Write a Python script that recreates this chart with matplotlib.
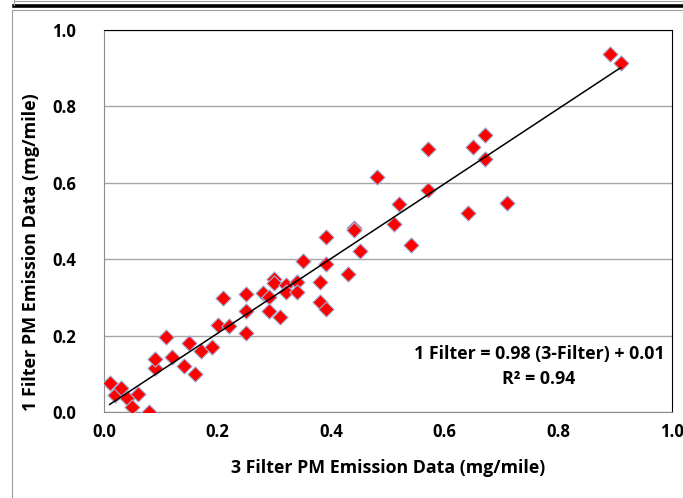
import matplotlib
matplotlib.use('Agg')
from matplotlib import pyplot as plt
from matplotlib.lines import Line2D
from matplotlib.patches import Rectangle

# 3 filter vs 1 filter PM emission (mg/mile)
three_filter = [0.01, 0.02, 0.03, 0.04, 0.05, 0.06, 0.08, 0.09, 0.09, 0.11,
                0.12, 0.14, 0.15, 0.16, 0.17, 0.19, 0.20, 0.21, 0.22, 0.25,
                0.25, 0.25, 0.28, 0.29, 0.29, 0.30, 0.30, 0.31, 0.32, 0.32,
                0.34, 0.34, 0.35, 0.38, 0.38, 0.39, 0.39, 0.39, 0.43, 0.44,
                0.44, 0.45, 0.48, 0.51, 0.52, 0.54, 0.57, 0.57, 0.64, 0.65,
                0.67, 0.67, 0.71, 0.89, 0.91]
one_filter = [0.075, 0.045, 0.062, 0.037, 0.013, 0.047, 0.00, 0.115, 0.139, 0.196,
              0.144, 0.121, 0.181, 0.099, 0.160, 0.170, 0.228, 0.298, 0.225, 0.309,
              0.264, 0.207, 0.312, 0.300, 0.264, 0.348, 0.337, 0.249, 0.332, 0.314,
              0.340, 0.314, 0.395, 0.340, 0.288, 0.270, 0.387, 0.458, 0.361, 0.482,
              0.476, 0.421, 0.615, 0.492, 0.544, 0.437, 0.688, 0.581, 0.521, 0.695,
              0.725, 0.662, 0.547, 0.937, 0.914]
slope = 0.98
intercept = 0.01
r_squared = 0.94
ticks = [0.0, 0.2, 0.4, 0.6, 0.8, 1.0]

plt.rcParams['font.family'] = ['Open Sans', 'DejaVu Sans']
plt.rcParams['font.weight'] = 'bold'

fig = plt.figure(figsize=(6.83, 4.98), dpi=100)
W, H = 683, 498

# frame bits around the chart (screenshot of a document)
fig.add_artist(Line2D([14 / W, 1], [1 - 1 / H, 1 - 1 / H], color='#a0a0a0', lw=0.8))
fig.add_artist(Line2D([14 / W, 1], [1 - 6.5 / H, 1 - 6.5 / H], color='black', lw=2.6))
fig.add_artist(Line2D([14 / W, 14 / W], [1 - 5 / H, 1], color='#a0a0a0', lw=0.8))
fig.add_artist(Rectangle((11.5 / W, -0.1), 1.2, 1.1 - 10 / H, transform=fig.transFigure,
                         fill=False, edgecolor='#a0a0a0', lw=0.8))

ax = fig.add_axes([104 / W, 1 - 412 / H, (672 - 104) / W, (412 - 30) / H])

ax.scatter(three_filter, one_filter, marker='D', s=60, color='#ff0000',
           edgecolors='#9fb4dc', linewidths=0.8, zorder=3)

x0, x1 = min(three_filter), max(three_filter)
ax.plot([x0, x1], [slope * x0 + intercept, slope * x1 + intercept],
        color='black', lw=1.1, zorder=4)

ax.set_xlim(0, 1)
ax.set_ylim(0, 1)
ax.set_xticks(ticks)
ax.set_yticks(ticks)
ax.set_xticklabels([f'{t:.1f}' for t in ticks])
ax.set_yticklabels([f'{t:.1f}' for t in ticks])
ax.tick_params(length=0, labelsize=12, pad=8)
ax.tick_params(axis='y', pad=20)
ax.grid(axis='y', color='#a6a6a6', lw=1)
ax.set_axisbelow(True)
for side in ['left', 'bottom']:
    ax.spines[side].set_color('#8c8c8c')
for side in ['top', 'right']:
    ax.spines[side].set_color('black')

fig.text(388 / W, 1 - 468 / H, '3 Filter PM Emission Data (mg/mile)',
         ha='center', va='center', fontsize=12.8, fontweight='bold')
fig.text(31 / W, 1 - 252 / H, '1 Filter PM Emission Data (mg/mile)',
         ha='center', va='center', rotation=90, fontsize=13, fontweight='bold')

ax.text(0.766, 0.119, f'1 Filter = {slope:.2f} (3-Filter) + {intercept:.2f}\nR² = {r_squared:.2f}',
        ha='center', va='center', fontsize=12.8, fontweight='bold', linespacing=1.5)

fig.savefig('out.png', dpi=100)
